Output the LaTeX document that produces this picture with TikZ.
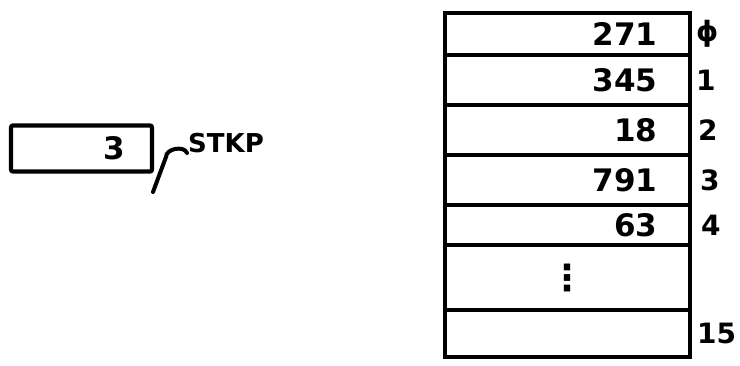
\documentclass[tikz,border=0pt]{standalone}
\usepackage{fontspec}
\setmainfont{DejaVu Sans}
\usetikzlibrary{positioning}

\begin{document}
\begin{tikzpicture}[
  x=1pt, y=-1pt,
  every node/.style={font=\fontsize{31}{33}\selectfont\bfseries},
  cell/.style={rectangle, draw, line width=4pt, minimum width=245pt,
    text width=180pt, align=right, inner sep=0pt, outer sep=0pt},
  reg/.style={rectangle, draw, line width=4.2pt, rounded corners=2pt,
    minimum width=141pt, minimum height=46pt, text width=88pt, align=right, inner sep=0pt},
  index/.style={inner sep=0pt, font=\fontsize{28}{30}\selectfont\bfseries},
  tag/.style={inner sep=1pt, font=\fontsize{26}{28}\selectfont\bfseries},
  pointer/.style={line width=4pt, line cap=round},
]
\useasboundingbox (0,0) rectangle (740,366);

% Stack pointer register
\node[reg] (stkbox) at (81.5,148.5) {3};
\node[tag, anchor=base west] (stklabel) at (187,153) {STKP};
\coordinate (ptrfoot) at (153,192);
\coordinate (ptrtop) at (166,157);
\draw[pointer] (ptrfoot) -- (ptrtop) to[bend left=80] (stklabel.base west);

% Stack cells
\node[cell, minimum height=42pt, anchor=north] (r0) at (567.5,13) {271};
\node[cell, minimum height=50pt, below=0pt of r0] (r1) {345};
\node[cell, minimum height=50pt, below=0pt of r1] (r2) {18};
\node[cell, minimum height=50pt, below=0pt of r2] (r3) {791};
\node[cell, minimum height=40pt, below=0pt of r3] (r4) {63};
\node[cell, minimum height=65pt, below=0pt of r4, align=center,
  font=\fontsize{36}{38}\selectfont\bfseries] (r5) {⋮};
\node[cell, minimum height=47pt, below=0pt of r5] (r15) {};

% Indices
\node[index, right=6pt of r0.east] (i0) {ϕ};
\node[index, right=6pt of r1.east] (i1) {1};
\node[index, right=8pt of r2.east] (i2) {2};
\node[index, right=10pt of r3.east] (i3) {3};
\node[index, right=11pt of r4.east] (i4) {4};
\node[index, right=7pt of r15.east] (i15) {15};
\end{tikzpicture}
\end{document}
